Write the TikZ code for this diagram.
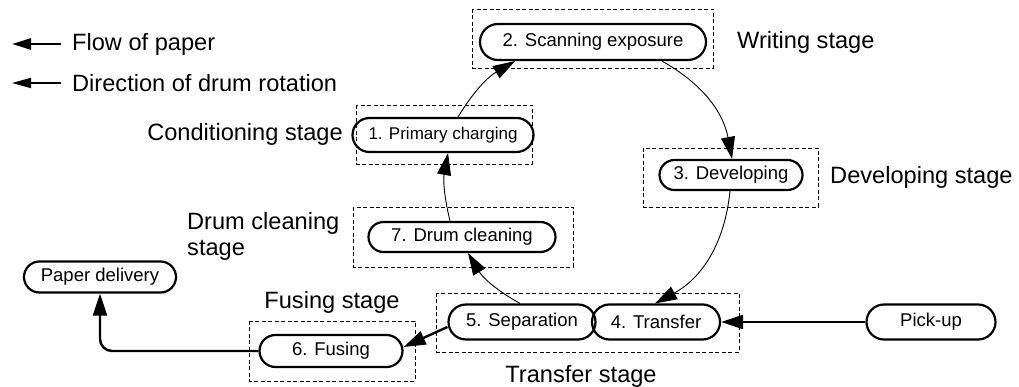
\documentclass[tikz,border=0pt]{standalone}
\usepackage{fontspec}
\setmainfont{Liberation Sans}
\usetikzlibrary{shapes.misc,arrows.meta}
\begin{document}
\begin{tikzpicture}[x=1pt,y=1pt,
  stagebox/.style={draw, line width=0.9pt, dash pattern=on 4pt off 2.5pt},
  proc/.style={draw, rounded rectangle, line width=2.2pt, inner xsep=-3pt, inner ysep=2pt,
    font=\fontsize{18.5}{20}\selectfont},
  lbl/.style={font=\fontsize{23.6}{26}\selectfont, inner sep=0pt},
  paper/.style={line width=2.4pt, -{Triangle[length=22pt,width=14pt]}},
  drum/.style={line width=0.9pt, -{Triangle[length=22pt,width=14pt]}},
  legpaper/.style={line width=2.6pt, -{Triangle[length=19pt,width=11pt]}},
  legdrum/.style={line width=1.6pt, -{Triangle[length=19pt,width=10pt]}}
]
\useasboundingbox (0,0) rectangle (1019,387);

% stage boxes
\draw[stagebox] (472,378) rectangle (713,319);
\draw[stagebox] (356,282) rectangle (532,223);
\draw[stagebox] (643,239) rectangle (818,180);
\draw[stagebox] (353,180) rectangle (573,120);
\draw[stagebox] (249,66) rectangle (415,6);
\draw[stagebox] (436,94) rectangle (739,35);

% process nodes
\node[proc, minimum width=220pt, minimum height=36pt] (n2) at (593,345) {2. Scanning exposure};
\node[proc, minimum width=163pt, minimum height=34pt, inner xsep=-9pt,
  font=\fontsize{17}{19}\selectfont] (n1) at (443,252) {1. Primary charging};
\node[proc, minimum width=137pt, minimum height=30pt] (n3) at (731,212) {3. Developing};
\node[proc, minimum width=181pt, minimum height=30pt] (n7) at (462,150) {7. Drum cleaning};
\node[proc, minimum width=137pt, minimum height=32pt] (n6) at (331,36) {6. Fusing};
\node[proc, minimum width=146pt, minimum height=31pt] (pd) at (100,110) {Paper delivery};
\node[proc, minimum width=141pt, minimum height=35pt] (n5) at (522,65) {5. Separation};
\node[proc, minimum width=122pt, minimum height=35pt] (n4) at (656,65) {4. Transfer};
\node[proc, minimum width=123pt, minimum height=35pt] (pu) at (931,65) {Pick-up};

% stage labels
\node[lbl, anchor=west] (lw) at (737,345) {Writing stage};
\node[lbl, anchor=east] (lc) at (343,253) {Conditioning stage};
\node[lbl, anchor=west] (ld) at (830,210) {Developing stage};
\node[lbl, anchor=west, align=left] (ldc) at (187,151) {Drum cleaning\\stage};
\node[lbl] (lf) at (332,85) {Fusing stage};
\node[lbl] (lt) at (581,11) {Transfer stage};

% legend
\coordinate (l1s) at (61,343);
\coordinate (l1e) at (12,343);
\coordinate (l2s) at (61,304);
\coordinate (l2e) at (12,304);
\draw[legpaper] (l1s) -- (l1e);
\draw[legdrum] (l2s) -- (l2e);
\node[lbl, anchor=west] (lg1) at (72,343) {Flow of paper};
\node[lbl, anchor=west] (lg2) at (72,304) {Direction of drum rotation};

% paper flow
\draw[paper] (pu.west) -- (n4.east);
\draw[paper] ([yshift=-5pt]n5.west) -- ([yshift=4pt]n6.east);
\draw[paper, rounded corners=12pt] (n6.west) -| (pd.south);

% drum rotation
\draw[drum] ([xshift=15pt]n1.north) to[bend left=14] ([xshift=-78pt]n2.south);
\draw[drum] ([xshift=69pt]n2.south) to[bend left=25] ([xshift=1pt]n3.north);
\draw[drum] ([xshift=-1pt]n3.south) to[bend left=28] ([xshift=-1pt]n4.north);
\draw[drum] ([xshift=-2pt]n5.north) to[bend left=15] ([xshift=6pt]n7.south);
\draw[drum] ([xshift=-12pt]n7.north) to[bend left=12] ([xshift=5pt]n1.south);
\end{tikzpicture}
\end{document}
